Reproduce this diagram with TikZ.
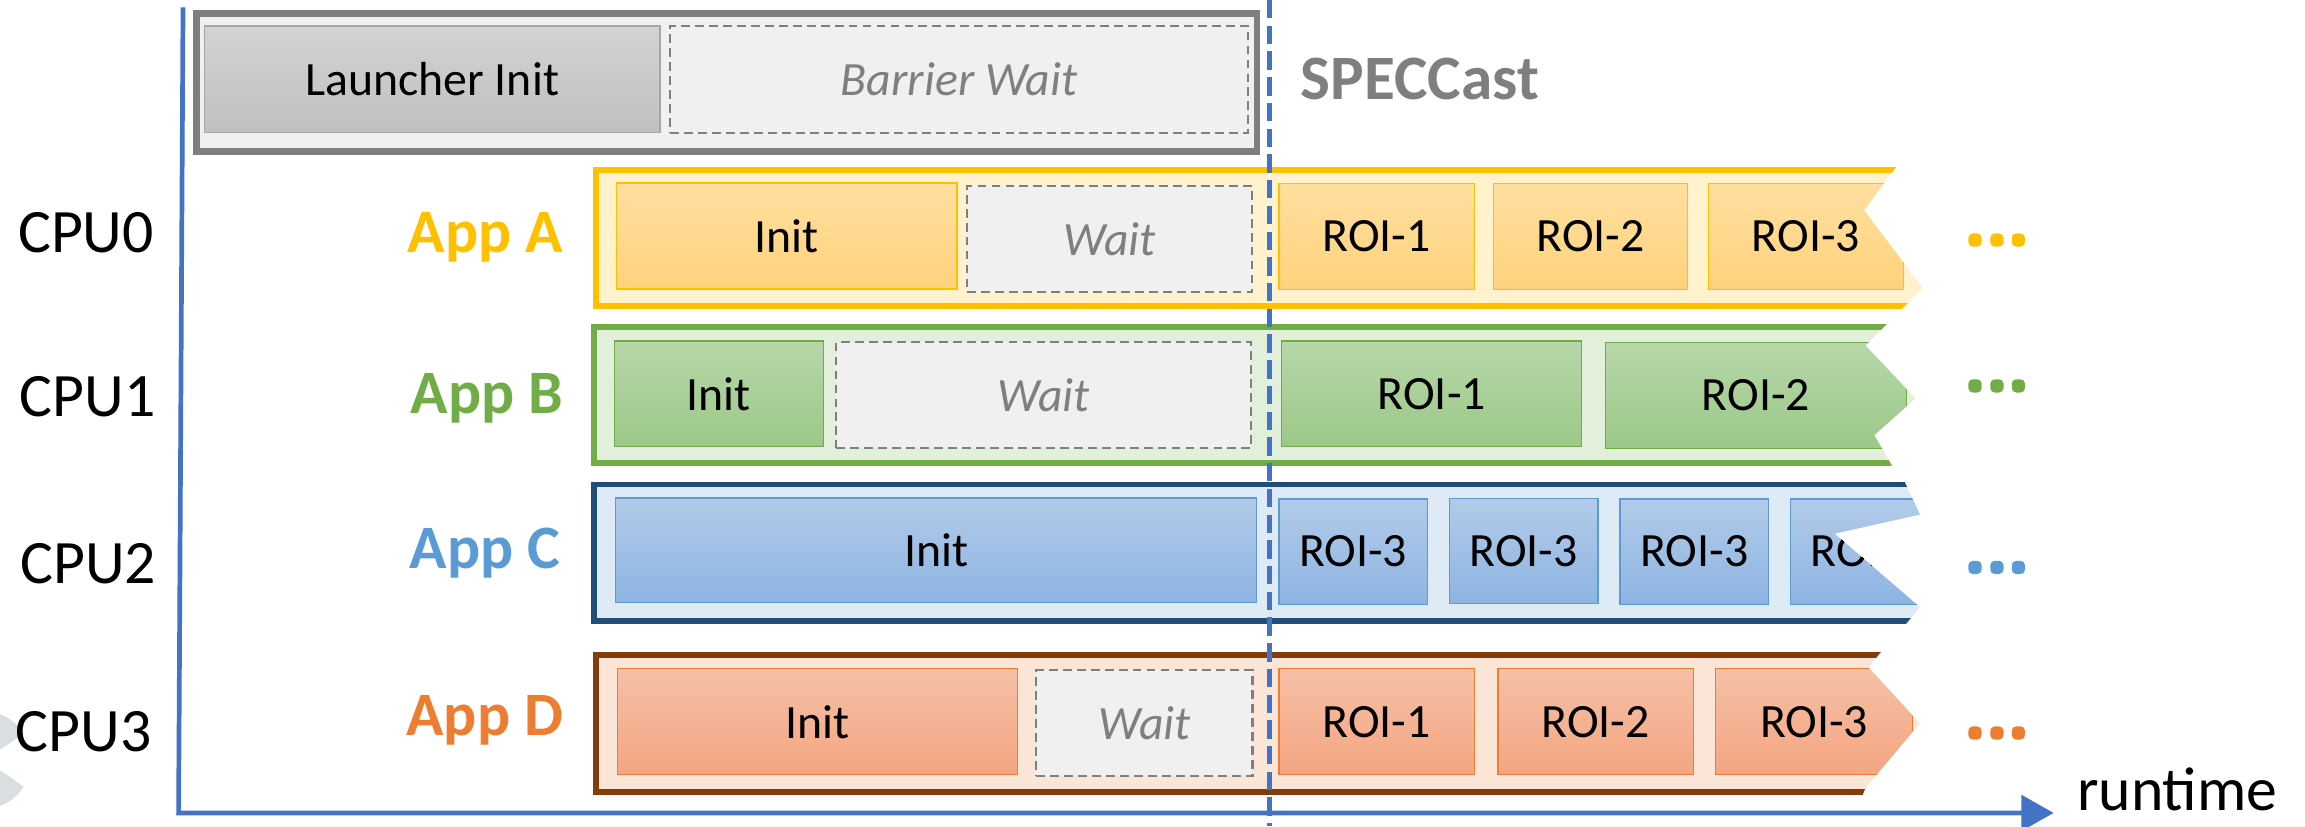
\documentclass[tikz,border=0pt]{standalone}
\usepackage{fontspec}
\setmainfont{Carlito}
\usetikzlibrary{arrows.meta}
\definecolor{axisblue}{HTML}{4472C4}
\definecolor{gborder}{HTML}{7F7F7F}
\definecolor{gfill}{HTML}{F0F0F0}
\definecolor{waitgray}{HTML}{7F7F7F}
\definecolor{lauTop}{HTML}{D3D3D3}
\definecolor{lauBot}{HTML}{C0C0C0}
\definecolor{lauBorder}{HTML}{A6A6A6}
\definecolor{aBorder}{HTML}{FFC000}
\definecolor{aFill}{HTML}{FFF2CC}
\definecolor{aTop}{HTML}{FFDF9F}
\definecolor{aBot}{HTML}{FFD27D}
\definecolor{bBorder}{HTML}{70AD47}
\definecolor{bFill}{HTML}{E2EFDA}
\definecolor{bTop}{HTML}{B7D7A9}
\definecolor{bBot}{HTML}{9CC888}
\definecolor{cBorder}{HTML}{1F4E79}
\definecolor{cFill}{HTML}{DEEBF7}
\definecolor{cTop}{HTML}{B2CBE9}
\definecolor{cBot}{HTML}{8DB4E2}
\definecolor{cInner}{HTML}{5B9BD5}
\definecolor{dBorder}{HTML}{843C0C}
\definecolor{dFill}{HTML}{FBE5D6}
\definecolor{dTop}{HTML}{F6C0A6}
\definecolor{dBot}{HTML}{F4A582}
\definecolor{dInner}{HTML}{ED7D31}
\definecolor{wmark}{HTML}{D9DEE0}
\begin{document}
\begin{tikzpicture}[x=1pt,y=-1pt,
  every node/.style={inner sep=0pt, outer sep=0pt},
  boxtext/.style={font=\fontsize{32.5}{38}\selectfont},
  waitbox/.style={draw=waitgray, fill=gfill, line width=1.4pt, dash pattern=on 6pt off 3.5pt,
     font=\fontsize{32.5}{38}\selectfont\itshape, text=waitgray, anchor=north west},
  rowbox/.style={line width=4pt, anchor=north west},
  abox/.style={draw=aBorder, line width=0.8pt, top color=aTop, bottom color=aBot, boxtext, anchor=north west},
  bbox/.style={draw=bBorder, line width=0.8pt, top color=bTop, bottom color=bBot, boxtext, anchor=north west},
  cbox/.style={draw=cInner, line width=0.8pt, top color=cTop, bottom color=cBot, boxtext, anchor=north west},
  dbox/.style={draw=dInner, line width=0.8pt, top color=dTop, bottom color=dBot, boxtext, anchor=north west},
  cpulabel/.style={font=\fontsize{42}{50}\selectfont, anchor=base},
  applabel/.style={font=\bfseries\fontsize{42}{50}\selectfont, anchor=base east},
  axisline/.style={draw=axisblue, line width=3.2pt}
]
\useasboundingbox (0,0) rectangle (1568,561.9);

% watermark fragment
\draw[wmark, line width=19pt] (8.4,504.3) arc[start angle=-32, end angle=-328, radius=24];

% top launcher box
\node[draw=gborder, fill=gfill, line width=4.5pt, anchor=north west,
      minimum width=721.5, minimum height=93.9] (topbox) at (133.5,9.3) {};
\node[draw=lauBorder, line width=0.8pt, top color=lauTop, bottom color=lauBot, boxtext,
      anchor=north west, minimum width=310, minimum height=72.3] (launcher) at (139,17.7) {Launcher Init};
\node[waitbox, minimum width=393, minimum height=72.8] (barrier) at (456,17.7) {Barrier Wait};
\node[font=\fontsize{43}{50}\selectfont\bfseries, text=gborder, anchor=base west] (speccast) at (885,67.4) {SPECCast};

% Row A
\begin{scope}
\clip (395,108) -- (1294,108) -- (1268,143) -- (1308,196) -- (1291,213) -- (395,213) -- cycle;
\node[rowbox, draw=aBorder, fill=aFill, minimum width=930, minimum height=92.4] (rowA) at (405.6,115.6) {};
\node[abox, minimum width=231.4, minimum height=72.1] (initA) at (419.6,124.5) {Init};
\node[waitbox, minimum width=193.7, minimum height=72.1] (waitA) at (658,126.5) {Wait};
\node[abox, minimum width=133, minimum height=72.1] (roiA1) at (870,124.7) {ROI-1};
\node[abox, minimum width=132, minimum height=72.1] (roiA2) at (1016,124.7) {ROI-2};
\node[abox, minimum width=133, minimum height=72.1] (roiA3) at (1162,124.7) {ROI-3};
\end{scope}

% Row B
\begin{scope}
\clip (395,215) -- (1289,215) -- (1269,235) -- (1303,271) -- (1275,296) -- (1290,322) -- (395,322) -- cycle;
\node[rowbox, draw=bBorder, fill=bFill, minimum width=930, minimum height=92.6] (rowB) at (404,222.4) {};
\node[bbox, minimum width=142, minimum height=72] (initB) at (418,232) {Init};
\node[waitbox, minimum width=282, minimum height=72.1] (waitB) at (569,232.7) {Wait};
\node[bbox, minimum width=204, minimum height=72] (roiB1) at (872,232) {ROI-1};
\node[bbox, minimum width=205, minimum height=72] (roiB2) at (1092,233) {ROI-2};
\end{scope}

% Row C
\begin{scope}
\clip (395,322) -- (1293,322) -- (1306,350) -- (1248,363) -- (1306,413) -- (1292,430) -- (395,430) -- cycle;
\node[rowbox, draw=cBorder, fill=cFill, minimum width=930, minimum height=92.9] (rowC) at (404,329.6) {};
\node[cbox, minimum width=436.4, minimum height=71.2] (initC) at (418.6,338.8) {Init};
\node[cbox, minimum width=101, minimum height=71.5] (roiC1) at (870,339.5) {ROI-3};
\node[cbox, minimum width=101, minimum height=71.5] (roiC2) at (986,339) {ROI-3};
\node[cbox, minimum width=101, minimum height=71.5] (roiC3) at (1102,339.5) {ROI-3};
\node[cbox, minimum width=101, minimum height=71.5] (roiC4) at (1218,339.5) {ROI-3};
\end{scope}

% Row D
\begin{scope}
\clip (395,438) -- (1284,438) -- (1271,454) -- (1306,492) -- (1269,536) -- (1265,546) -- (395,546) -- cycle;
\node[rowbox, draw=dBorder, fill=dFill, minimum width=930, minimum height=93.1] (rowD) at (405.6,445.5) {};
\node[dbox, minimum width=272, minimum height=72] (initD) at (420,455) {Init};
\node[waitbox, minimum width=147, minimum height=72] (waitD) at (705,456) {Wait};
\node[dbox, minimum width=133, minimum height=72] (roiD1) at (870,455) {ROI-1};
\node[dbox, minimum width=133, minimum height=72] (roiD2) at (1019,455) {ROI-2};
\node[dbox, minimum width=134, minimum height=72] (roiD3) at (1167,455) {ROI-3};
\end{scope}

% continuation dots
\foreach \yy/\cc in {163.3/aBorder, 262.5/bBorder, 386/cInner, 498.6/dInner}{
  \foreach \xx in {1343.5,1358.4,1373}{
    \fill[\cc, rounded corners=3pt] (\xx-4.5,\yy-4.5) rectangle (\xx+4.5,\yy+4.5);
  }
}

% CPU labels
\node[cpulabel] (cpu0) at (58.5,172) {CPU0};
\node[cpulabel] (cpu1) at (59.5,283) {CPU1};
\node[cpulabel] (cpu2) at (60,397) {CPU2};
\node[cpulabel] (cpu3) at (57,511) {CPU3};

% App labels
\node[applabel, text=aBorder] (appA) at (383,172) {App A};
\node[applabel, text=bBorder] (appB) at (383,281) {App B};
\node[applabel, text=cInner] (appC) at (381,387) {App C};
\node[applabel, text=dInner] (appD) at (383,500) {App D};

% SPECCast start line
\coordinate (dtop) at (863.5,0);
\coordinate (dbot) at (863.5,562);
\draw[draw=axisblue, line width=3.2pt, dash pattern=on 12.5pt off 5pt] (dtop) -- (dbot);

% axes
\coordinate (ytop) at (124.5,5);
\coordinate (origin) at (121.5,553);
\coordinate (xend) at (1397,553);
\draw[axisline, -{Triangle[length=22pt, width=24pt]}] (ytop) -- (origin) -- (xend);
\node[font=\fontsize{42}{50}\selectfont, anchor=base west] (runtime) at (1413,551.5) {runtime};
\end{tikzpicture}
\end{document}
